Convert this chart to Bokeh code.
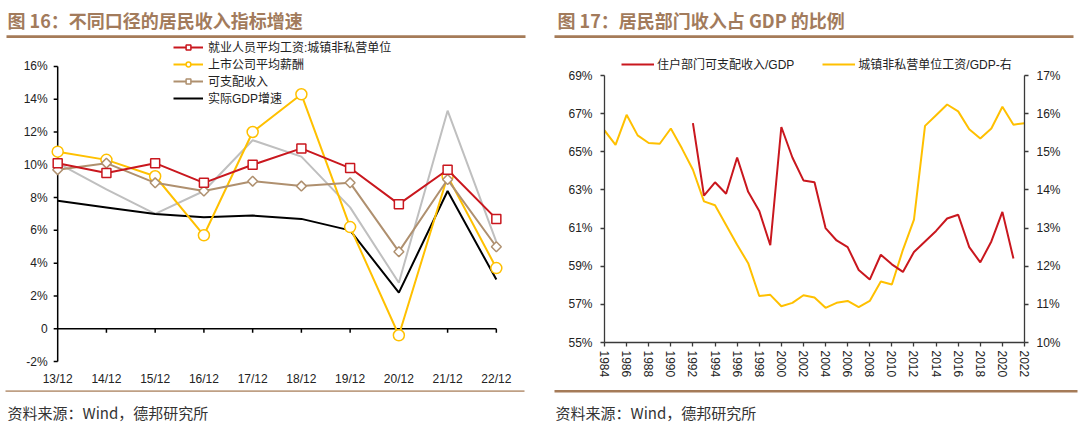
import numpy as np
from bokeh.plotting import figure
from bokeh.models import Range1d, LinearAxis, FixedTicker, Legend, LegendItem, PrintfTickFormatter
from bokeh.layouts import column, row
from bokeh.core.properties import value
from bokeh.embed import file_html
from bokeh.resources import INLINE

# ---------------- data ----------------
periods = ["13/12", "14/12", "15/12", "16/12", "17/12", "18/12", "19/12", "20/12", "21/12", "22/12"]
wage_urban = [10.1, 9.5, 10.1, 8.9, 10.0, 11.0, 9.8, 7.6, 9.7, 6.7]
listed_pay = [10.8, 10.3, 9.3, 5.7, 12.0, 14.3, 6.2, -0.4, 9.3, 3.7]
disp_income = [9.7, 10.1, 8.9, 8.4, 9.0, 8.7, 8.9, 4.7, 9.1, 5.0]
real_gdp = [7.8, 7.4, 7.0, 6.8, 6.9, 6.7, 6.0, 2.2, 8.4, 3.0]
nominal_gdp = [10.1, 8.5, 7.0, 8.4, 11.5, 10.5, 7.4, 2.8, 13.3, 5.3]
left_ticks = [-2, 0, 2, 4, 6, 8, 10, 12, 14, 16]
left_tick_labels = ["-2%", "0", "2%", "4%", "6%", "8%", "10%", "12%", "14%", "16%"]

years_hh = list(range(1992, 2022))
hh_ratio = [66.5, 62.7, 63.4, 62.8, 64.7, 62.9, 61.9, 60.1, 66.3, 64.7,
            63.5, 63.4, 61.0, 60.35, 60.0, 58.8, 58.3, 59.6, 59.1, 58.7,
            59.75, 60.3, 60.85, 61.5, 61.7, 60.0, 59.2, 60.3, 61.85, 59.4]
years_wage = list(range(1984, 2023))
wage_ratio = [15.56, 15.18, 15.97, 15.43, 15.23, 15.21, 15.61, 15.09, 14.53, 13.7,
              13.6, 13.08, 12.56, 12.08, 11.22, 11.25, 10.95, 11.04, 11.24, 11.18,
              10.91, 11.04, 11.09, 10.93, 11.09, 11.6, 11.52, 12.43, 13.22, 15.68,
              15.96, 16.24, 16.06, 15.59, 15.35, 15.61, 16.18, 15.71, 15.75]
right_left_ticks = [55, 57, 59, 61, 63, 65, 67, 69]
right_right_ticks = [10, 11, 12, 13, 14, 15, 16, 17]
year_ticks = list(range(1984, 2023, 2))

title_left = "图 16：不同口径的居民收入指标增速"
title_right = "图 17：居民部门收入占 GDP 的比例"
source_text = "资料来源：Wind，德邦研究所"

# ---------------- styles ----------------
RED = "#C9171E"
YEL = "#FFC000"
TAN = "#AF906F"
GRAY = "#BFBFBF"
BLACK = "#000000"
RULE = "#A57B58"
RULE_LIGHT = "#BFA085"
TITLE_C = "#A27B5C"
CJK = "Noto Sans CJK SC"
LAT = "Liberation Sans"
NARROW = "'Liberation Sans Narrow', 'Arial Narrow', 'Liberation Sans'"
MIXED = "'Liberation Sans', 'Noto Sans CJK SC'"
TXT = "#222222"


def clean(p):
    p.outline_line_color = None
    p.background_fill_color = "white"
    p.border_fill_color = "white"
    for g in p.xgrid + p.ygrid:
        g.visible = False
    try:
        p.frame_align = False
    except Exception:
        pass


# ---------------- header ----------------
hdr = figure(width=1080, height=38, x_range=Range1d(0, 1080), y_range=Range1d(38, 0),
             x_axis_type=None, y_axis_type=None, toolbar_location=None,
             output_backend="svg", min_border=0)
clean(hdr)
hdr.text(x=[7, 557], y=[19, 19], text=[title_left, title_right], text_baseline="middle",
         text_align="left", text_font=value(CJK), text_font_style="bold",
         text_font_size="18px", text_color=TITLE_C)
hdr.quad(left=[6, 554], right=[525, 1073], top=[34.7, 34.7], bottom=[37.4, 37.4],
         fill_color=RULE, line_color=None)

# ---------------- left chart ----------------
xs = list(range(len(periods)))
left = figure(width=540, height=350, x_range=Range1d(-0.763, 9.352),
              y_range=Range1d(-2.365, 17.703), output_backend="svg", toolbar_location=None,
              y_axis_type=None,
              min_border_left=20, min_border_right=27, min_border_top=0, min_border_bottom=20)
clean(left)

# hand-drawn value axis at the first category, zero line with category ticks
n_t = len(left_ticks)
left.segment(x0=[xs[0]], y0=[left_ticks[0]], x1=[xs[0]], y1=[left_ticks[-1]],
             line_color=BLACK, line_width=1.5)
left.ray(x=[xs[0]] * n_t, y=left_ticks, length=4, angle=np.pi, length_units="screen",
         line_color=BLACK, line_width=1.5)
left.text(x=[xs[0]] * n_t, y=left_ticks, text=left_tick_labels, x_offset=-10,
          text_align="right", text_baseline="middle", text_font=value(NARROW),
          text_font_size="12px", text_color=TXT)
left.segment(x0=[xs[0]], y0=[0], x1=[xs[-1]], y1=[0], line_color=BLACK, line_width=1.5)
left.segment(x0=xs[1:], y0=[0] * (len(xs) - 1), x1=xs[1:], y1=[-0.25] * (len(xs) - 1),
             line_color=BLACK, line_width=1.5)

r_nom = left.line(xs, nominal_gdp, line_color=GRAY, line_width=2)
r_gdp = left.line(xs, real_gdp, line_color=BLACK, line_width=2)
r_lp_l = left.line(xs, listed_pay, line_color=YEL, line_width=2)
r_lp_m = left.scatter(xs, listed_pay, marker="circle", size=11, fill_color="white",
                      line_color=YEL, line_width=1.5)
r_di_l = left.line(xs, disp_income, line_color=TAN, line_width=2)
r_di_m = left.scatter(xs, disp_income, marker="square", angle=np.pi / 4, size=7,
                      fill_color="white", line_color=TAN, line_width=1.5)
r_wu_l = left.line(xs, wage_urban, line_color=RED, line_width=2)
r_wu_m = left.scatter(xs, wage_urban, marker="square", size=9, fill_color="white",
                      line_color=RED, line_width=1.5)

xa = left.xaxis[0]
xa.ticker = FixedTicker(ticks=xs)
xa.major_label_overrides = {i: p for i, p in enumerate(periods)}
xa.axis_line_color = None
xa.major_tick_line_color = None
xa.minor_tick_line_color = None
xa.major_tick_out = 0
xa.major_tick_in = 0
xa.major_label_standoff = 4
xa.major_label_text_font = LAT
xa.major_label_text_font_size = "12px"
xa.major_label_text_color = TXT

leg_l = Legend(items=[
    LegendItem(label="就业人员平均工资:城镇非私营单位", renderers=[r_wu_l, r_wu_m]),
    LegendItem(label="上市公司平均薪酬", renderers=[r_lp_l, r_lp_m]),
    LegendItem(label="可支配收入", renderers=[r_di_l, r_di_m]),
    LegendItem(label="实际GDP增速", renderers=[r_gdp]),
], location=(153, 261), orientation="vertical")
leg_l.border_line_color = None
leg_l.background_fill_alpha = 0
leg_l.padding = 0
leg_l.margin = 0
leg_l.spacing = 0
leg_l.glyph_width = 30
leg_l.glyph_height = 12
leg_l.label_height = 12
leg_l.label_standoff = 5
leg_l.label_text_font = MIXED
leg_l.label_text_font_size = "12px"
leg_l.label_text_color = TXT
left.add_layout(leg_l)

# ---------------- right chart ----------------
right = figure(width=540, height=350, x_range=Range1d(1984, 2022), y_range=Range1d(55, 70.206),
               output_backend="svg", toolbar_location=None,
               min_border_left=64, min_border_right=56, min_border_top=14, min_border_bottom=46)
clean(right)
right.extra_y_ranges = {"r": Range1d(10, 17.603)}

r_wage = right.line(years_wage, wage_ratio, line_color=YEL, line_width=2, y_range_name="r")
r_hh = right.line(years_hh, hh_ratio, line_color=RED, line_width=2)

AX = "#3A3A3A"
ly = right.yaxis[0]
ly.bounds = (55, 69)
ly.ticker = FixedTicker(ticks=right_left_ticks)
ra = LinearAxis(y_range_name="r")
ra.bounds = (10, 17)
ra.ticker = FixedTicker(ticks=right_right_ticks)
right.add_layout(ra, "right")
for a in (ly, ra):
    a.formatter = PrintfTickFormatter(format="%d%%")
    a.major_label_standoff = 8
for a in (ly, ra, right.xaxis[0]):
    a.axis_line_color = AX
    a.axis_line_width = 1.3
    a.major_tick_line_color = AX
    a.major_tick_line_width = 1.3
    a.major_tick_out = 4
    a.major_tick_in = 0
    a.minor_tick_line_color = None
    a.major_label_text_font = LAT
    a.major_label_text_font_size = "12px"
    a.major_label_text_color = TXT
bx = right.xaxis[0]
bx.ticker = FixedTicker(ticks=year_ticks)
bx.bounds = (1984, 2022)
bx.major_label_orientation = "vertical"
bx.major_label_standoff = 4

leg_r = Legend(items=[
    LegendItem(label="住户部门可支配收入/GDP", renderers=[r_hh]),
    LegendItem(label="城镇非私营单位工资/GDP-右", renderers=[r_wage]),
], location=(17, 270), orientation="horizontal")
leg_r.border_line_color = None
leg_r.background_fill_alpha = 0
leg_r.padding = 0
leg_r.margin = 0
leg_r.spacing = 28
leg_r.glyph_width = 33
leg_r.glyph_height = 12
leg_r.label_height = 12
leg_r.label_standoff = 3
leg_r.label_text_font = MIXED
leg_r.label_text_font_size = "12px"
leg_r.label_text_color = TXT
right.add_layout(leg_r)

# ---------------- footer ----------------
ftr = figure(width=1080, height=40, x_range=Range1d(0, 1080), y_range=Range1d(40, 0),
             x_axis_type=None, y_axis_type=None, toolbar_location=None,
             output_backend="svg", min_border=0)
clean(ftr)
ftr.quad(left=[5, 554], right=[524, 1077], top=[1.8, 1.4], bottom=[3.6, 4.0],
         fill_color=[RULE_LIGHT, RULE], line_color=None)
ftr.text(x=[7, 555], y=[23.7, 23.7], text=[source_text, source_text], text_baseline="middle",
         text_align="left", text_font=value(CJK), text_font_size="15px", text_color="#333333")

layout = column(hdr, row(left, right, spacing=0), ftr, spacing=0)
open("out.html", "w").write(file_html(layout, INLINE))
